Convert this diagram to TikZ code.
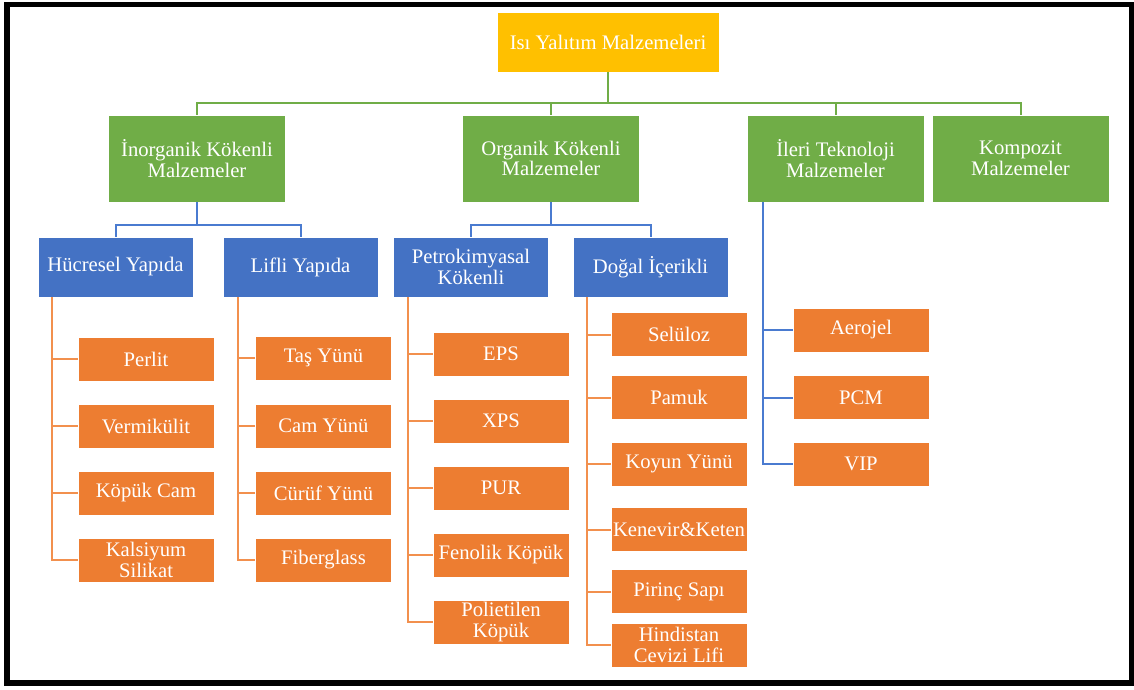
\documentclass[tikz,border=0pt]{standalone}
\usepackage{fontspec}
\setmainfont{Liberation Serif}
\definecolor{sari}{HTML}{FFC000}
\definecolor{yesil}{HTML}{70AD47}
\definecolor{mavi}{HTML}{4472C4}
\definecolor{turuncu}{HTML}{ED7D31}
\definecolor{turuncuhat}{HTML}{F2904E}
\definecolor{mavihat}{HTML}{4A7BD0}
\tikzset{
	kutu/.style={rectangle,draw=white,line width=.6pt,text=white,align=center,inner sep=0pt,font=\fontsize{15.5}{15.5}\selectfont},
	kok/.style={kutu,fill=sari,minimum width=166.5pt,minimum height=45pt},
	ana/.style={kutu,fill=yesil,minimum width=132.75pt,minimum height=65.25pt},
	alt/.style={kutu,fill=mavi,minimum width=116.25pt,minimum height=45pt},
	yaprak/.style={kutu,fill=turuncu,minimum width=102pt,minimum height=33pt},
	ghat/.style={draw=yesil,line width=1.5pt},
	mhat/.style={draw=mavihat,line width=1.5pt},
	that/.style={draw=turuncuhat,line width=1.5pt}
}

\begin{document}
\begin{tikzpicture}[x=.75pt,y=-.75pt]
		\useasboundingbox(0,0)rectangle(1134,689);
		\draw[line width=4pt](7,4.5)rectangle(1132,683);
		% ust seviyeler
		\node[kok](kok)at(608,42){Isı Yalıtım Malzemeleri};
		\node[ana](inorg)at(197,158.5){İnorganik Kökenli\\Malzemeler};
		\node[ana](org)at(551,158.5){Organik Kökenli\\Malzemeler};
		\node[ana](ileri)at(835.5,158.5){İleri Teknoloji\\Malzemeler};
		\node[ana](komp)at(1020.5,158.5){Kompozit\\Malzemeler};
		\node[alt](hucre)at(115.5,267){Hücresel Yapıda};
		\node[alt](lifli)at(300.5,267){Lifli Yapıda};
		\node[alt](petro)at(471,267){Petrokimyasal\\Kökenli};
		\node[alt](dogal)at(650.5,267){Doğal İçerikli};
		% yapraklar
		\node[yaprak](perlit)at(146,359){Perlit};
		\node[yaprak](vermi)at(146,426){Vermikülit};
		\node[yaprak](kopukcam)at(146,493){Köpük Cam};
		\node[yaprak](kalsiyum)at(146,560){Kalsiyum\\Silikat};
		\node[yaprak](tas)at(323.5,358){Taş Yünü};
		\node[yaprak](cam)at(323.5,426){Cam Yünü};
		\node[yaprak](curuf)at(323.5,493){Cürüf Yünü};
		\node[yaprak](fiber)at(323.5,560){Fiberglass};
		\node[yaprak](eps)at(501,354){EPS};
		\node[yaprak](xps)at(501,421){XPS};
		\node[yaprak](pur)at(501,488){PUR};
		\node[yaprak](fenolik)at(501,555){Fenolik Köpük};
		\node[yaprak](poli)at(501,622){Polietilen\\Köpük};
		\node[yaprak](seluloz)at(679,334.5){Selüloz};
		\node[yaprak](pamuk)at(679,397.5){Pamuk};
		\node[yaprak](koyun)at(679,464){Koyun Yünü};
		\node[yaprak](kenevir)at(679,529.5){Kenevir\&Keten};
		\node[yaprak](pirinc)at(679,591.5){Pirinç Sapı};
		\node[yaprak](hindistan)at(679,645){Hindistan\\Cevizi Lifi};
		\node[yaprak](aerojel)at(861,330){Aerojel};
		\node[yaprak](pcm)at(861,397.5){PCM};
		\node[yaprak](vip)at(861,464){VIP};
		% baglantilar
		\draw[ghat](kok.south)--++(0,31);
		\draw[ghat](inorg.north)--++(0,-12)-|(komp.north);
		\draw[ghat](org.north)--++(0,-12);
		\draw[ghat](ileri.north)--++(0,-12);
		\draw[mhat](inorg.south)--++(0,23);
		\draw[mhat](hucre.north)--++(0,-12)-|(lifli.north);
		\draw[mhat](org.south)--++(0,23);
		\draw[mhat](petro.north)--++(0,-12)-|(dogal.north);
		\draw[mhat](ileri.south west)++(16,0)coordinate(ib)|-(vip.west);
		\draw[mhat](aerojel.west)--(aerojel.west-|ib);
		\draw[mhat](pcm.west)--(pcm.west-|ib);
		\draw[that](hucre.south west)++(14,0)coordinate(hb)|-(kalsiyum.west);
		\draw[that](perlit.west)--(perlit.west-|hb);
		\draw[that](vermi.west)--(vermi.west-|hb);
		\draw[that](kopukcam.west)--(kopukcam.west-|hb);
		\draw[that](lifli.south west)++(15,0)coordinate(lb)|-(fiber.west);
		\draw[that](tas.west)--(tas.west-|lb);
		\draw[that](cam.west)--(cam.west-|lb);
		\draw[that](curuf.west)--(curuf.west-|lb);
		\draw[that](petro.south west)++(15,0)coordinate(pb)|-(poli.west);
		\draw[that](eps.west)--(eps.west-|pb);
		\draw[that](xps.west)--(xps.west-|pb);
		\draw[that](pur.west)--(pur.west-|pb);
		\draw[that](fenolik.west)--(fenolik.west-|pb);
		\draw[that](dogal.south west)++(14,0)coordinate(db)|-(hindistan.west);
		\draw[that](seluloz.west)--(seluloz.west-|db);
		\draw[that](pamuk.west)--(pamuk.west-|db);
		\draw[that](koyun.west)--(koyun.west-|db);
		\draw[that](kenevir.west)--(kenevir.west-|db);
		\draw[that](pirinc.west)--(pirinc.west-|db);
	\end{tikzpicture}
\end{document}
